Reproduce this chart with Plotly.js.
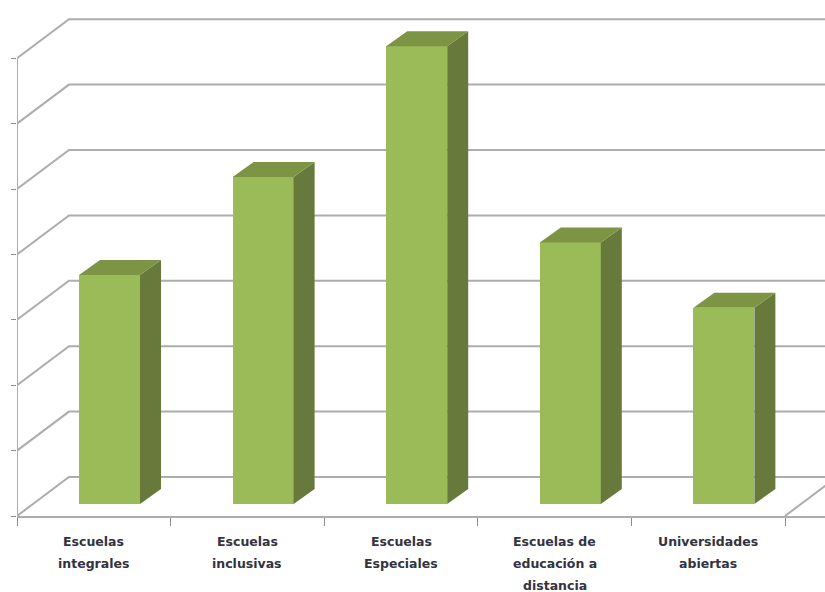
<!DOCTYPE html>
<html>
<head>
<meta charset="utf-8">
<script src="https://cdn.plot.ly/plotly-3.0.1.min.js"></script>
<style>html,body{margin:0;padding:0;background:#fff;overflow:hidden}#c{width:825px;height:592px}</style>
</head>
<body>
<div id="c"></div>
<script>
const categoryLines = [
  ["Escuelas", "integrales"],
  ["Escuelas", "inclusivas"],
  ["Escuelas", "Especiales"],
  ["Escuelas de", "educación a", "distancia"],
  ["Universidades", "abiertas"]
];
const values = [3.5, 5, 7, 4, 3];
const levels = [0, 1, 2, 3, 4, 5, 6, 7];
const categoryEdges = [0, 1, 2, 3, 4, 5];

const plotH = 516;
const xMax = 808 / 153.6, yMax = plotH / 65.4;
const wallDx = 52 / 153.6, wallDy = 39 / 65.4;
const barDx = 21 / 153.6, barDy = 15 / 65.4;
const barShift = 15.7 / 153.6, barWidth = 61 / 153.6, barBase = 12 / 65.4;
const GRID = '#adadad', FRONT = '#9bbb59', SIDE = '#677a3b', TOP = '#7c9443';

const traces = [];
levels.forEach(v => traces.push({
  type: 'scatter', mode: 'lines', xaxis: 'x', yaxis: 'y', hoverinfo: 'skip', showlegend: false,
  x: [0, wallDx, xMax], y: [v, v + wallDy, v + wallDy],
  line: {color: GRID, width: 2}
}));
traces.push({
  type: 'scatter', mode: 'lines', xaxis: 'x', yaxis: 'y', hoverinfo: 'skip', showlegend: false,
  x: [5, 5 + wallDx], y: [0, wallDy], line: {color: GRID, width: 2}
});
traces.push({
  type: 'scatter', mode: 'lines', xaxis: 'x', yaxis: 'y', hoverinfo: 'skip', showlegend: false, cliponaxis: false,
  x: [0, 0], y: [levels[0], levels[levels.length - 1]], line: {color: GRID, width: 2}
});
const centers = values.map((_, i) => i + 0.5 + barShift);
traces.push({
  type: 'bar', xaxis: 'x2', yaxis: 'y2', showlegend: false,
  x: centers, y: values, base: values.map(() => barBase), width: barWidth,
  marker: {color: FRONT, line: {width: 0}}
});
values.forEach((v, i) => {
  const l = centers[i] - barWidth / 2, r = centers[i] + barWidth / 2, t = barBase + v;
  traces.push({
    type: 'scatter', mode: 'lines', xaxis: 'x2', yaxis: 'y2', hoverinfo: 'skip', showlegend: false,
    x: [r, r + barDx, r + barDx, r, r], y: [barBase, barBase + barDy, t + barDy, t, barBase],
    fill: 'toself', fillcolor: SIDE, line: {width: 0, color: SIDE}
  });
  traces.push({
    type: 'scatter', mode: 'lines', xaxis: 'x2', yaxis: 'y2', hoverinfo: 'skip', showlegend: false,
    x: [l, r, r + barDx, l + barDx, l], y: [t, t, t + barDy, t + barDy, t],
    fill: 'toself', fillcolor: TOP, line: {width: 0, color: TOP}
  });
});

const annotations = [];
categoryLines.forEach((lines, i) => lines.forEach((txt, j) => annotations.push({
  text: txt, xref: 'x', yref: 'paper', x: i + 0.5, y: -(25 + 22 * j) / plotH,
  xanchor: 'center', yanchor: 'middle', showarrow: false, align: 'center', borderpad: 0,
  font: {family: 'DejaVu Sans', size: 12.5, color: '#33333f', weight: 'bold'}
})));

const layout = {
  width: 825, height: 592,
  margin: {l: 17, r: 0, t: 0, b: 76, pad: 0},
  paper_bgcolor: '#fff', plot_bgcolor: '#fff',
  showlegend: false, bargap: 0,
  xaxis: {
    range: [0, xMax], showgrid: false, zeroline: false, showline: true, linecolor: GRID, linewidth: 2,
    tickmode: 'array', tickvals: categoryEdges, ticks: 'outside', ticklen: 8, tickwidth: 1, tickcolor: '#8c8c8c',
    showticklabels: false, fixedrange: true
  },
  yaxis: {
    range: [0, yMax], showgrid: false, zeroline: false, showline: false,
    tickmode: 'array', tickvals: levels, ticks: 'outside', ticklen: 5, tickwidth: 1, tickcolor: '#8c8c8c',
    showticklabels: false, fixedrange: true
  },
  xaxis2: {overlaying: 'x', range: [0, xMax], visible: false, fixedrange: true},
  yaxis2: {overlaying: 'y', range: [0, yMax], visible: false, fixedrange: true},
  annotations: annotations
};
Plotly.newPlot('c', traces, layout, {displayModeBar: false, staticPlot: true});
</script>
</body>
</html>
